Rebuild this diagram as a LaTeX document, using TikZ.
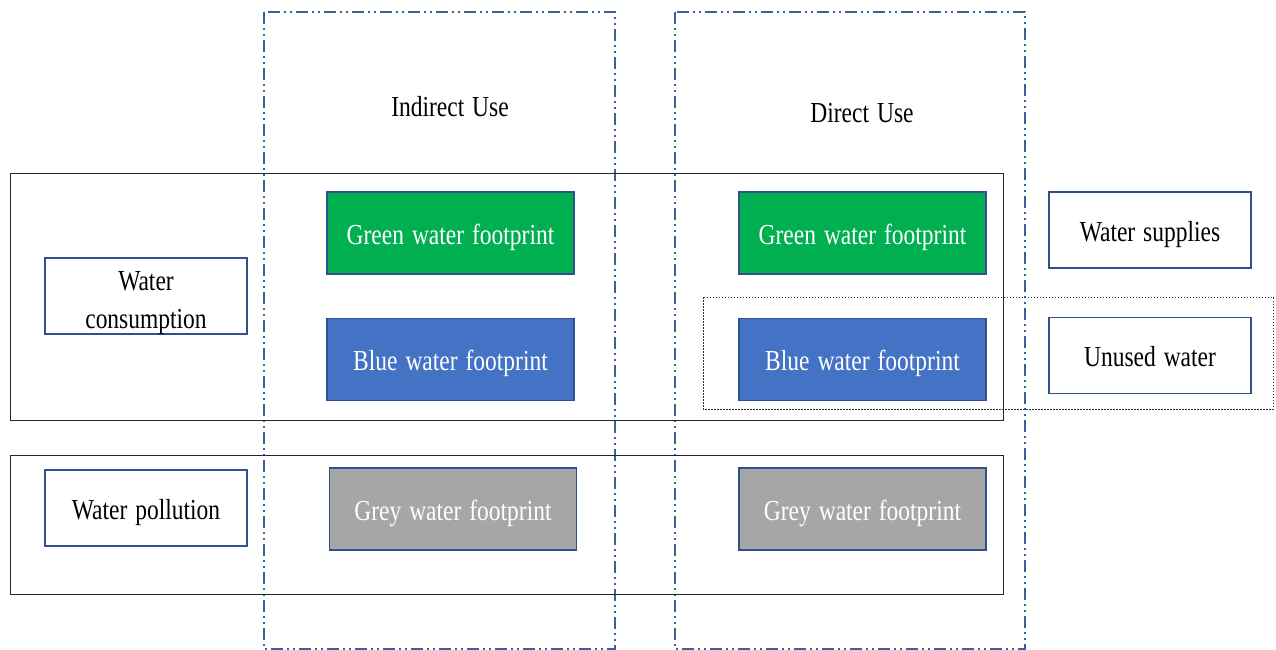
\documentclass[tikz,border=0pt]{standalone}
\usepackage{fontspec}
\setmainfont{Liberation Serif}[FakeStretch=0.81, WordSpace=1.35]
\usetikzlibrary{positioning}
\definecolor{bord}{HTML}{2F528F}
\definecolor{gfill}{HTML}{00B050}
\definecolor{bfill}{HTML}{4472C4}
\definecolor{grfill}{HTML}{A6A6A6}
\definecolor{ddcol}{HTML}{3B5FA0}
\begin{document}
\begin{tikzpicture}[x=1pt,y=-1pt,
  every node/.style={font=\fontsize{29}{38}\selectfont, inner sep=0pt, align=center},
  lowtext/.style={text height=23pt, text depth=1pt},
  fpbox/.style={lowtext, draw=bord, line width=1.5pt, text=white, minimum width=247pt, minimum height=82pt},
  whbox/.style={draw=bord, line width=1.5pt, fill=white, text=black, minimum width=202pt, minimum height=76pt},
  usebox/.style={draw=ddcol, line width=1.2pt, dash pattern=on 12pt off 4pt on 2pt off 4pt on 2pt off 4pt},
  grpbox/.style={draw=black!85, line width=1pt},
  dotbox/.style={draw=black!80, line width=0.8pt, dash pattern=on 1.5pt off 1.5pt}]
\useasboundingbox (0,0) rectangle (1276,650);
% column frames
\draw[usebox] (264,12) rectangle (615,649);
\draw[usebox] (675,12) rectangle (1025,649);
% group frames
\draw[grpbox] (10,173) rectangle (1003,420);
\draw[grpbox] (10,455) rectangle (1003,594);
% headings
\node (ind) at (450,107) {Indirect Use};
\node (dir) at (862,113) {Direct Use};
% footprint boxes
\node[fpbox, fill=gfill] (g1) at (450.5,233) {Green water footprint};
\node[fpbox, fill=gfill] (g2) at (862.5,233) {Green water footprint};
\node[fpbox, fill=bfill] (b1) at (450.5,359.5) {Blue water footprint};
\node[fpbox, fill=bfill] (b2) at (862.5,359.5) {Blue water footprint};
\node[fpbox, fill=grfill] (r1) at (453,509) {Grey water footprint};
\node[fpbox, fill=grfill] (r2) at (862.5,509) {Grey water footprint};
% white labels
\node[whbox] (wc) at (146,296) {};
\node (wct) at (146,303) {Water\\consumption};
\node[whbox, lowtext] (wp) at (146,508) {Water pollution};
\node[whbox, lowtext] (ws) at (1150,230) {Water supplies};
\node[whbox, lowtext] (uw) at (1150,355.5) {Unused water};
% dotted frame
\draw[dotbox] (703,297) rectangle (1273,409);
\end{tikzpicture}
\end{document}
